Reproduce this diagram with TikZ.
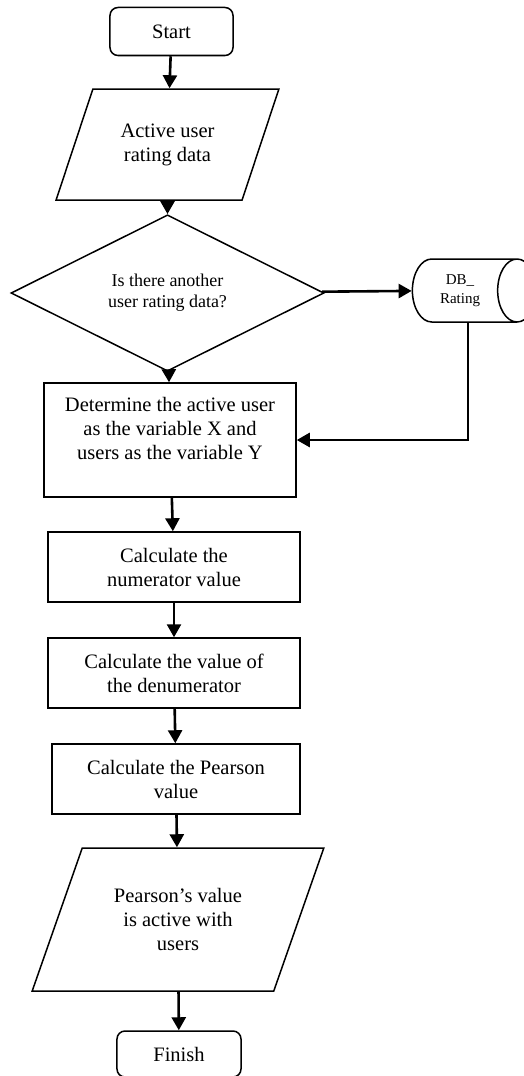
\documentclass[tikz,border=0pt]{standalone}
\usepackage{fontspec}
\setmainfont{Liberation Serif}
\usepackage{tikz}
\usetikzlibrary{shapes.geometric, arrows.meta}

\begin{document}
\begin{tikzpicture}[node distance=106pt]
\tikzstyle{startstop} = [rectangle, rounded corners=8pt, minimum width=123pt, minimum height=48pt, text centered, draw=black, line width=1.5pt, font=\fontsize{20.5}{24}\selectfont]
\tikzstyle{io} = [trapezium, trapezium left angle=63, trapezium right angle=117, trapezium stretches=true, align=center, draw=black, line width=1.5pt, font=\fontsize{20.5}{24}\selectfont]
\tikzstyle{process} = [rectangle, minimum width=252pt, minimum height=70pt, align=center, draw=black, line width=1.5pt, font=\fontsize{20.5}{24}\selectfont]
\tikzstyle{decision} = [diamond, minimum width=313pt, minimum height=114pt, inner sep=0pt, align=center, draw=black, line width=1.5pt, font=\fontsize{18}{21}\selectfont]
\tikzstyle{database} = [cylinder, minimum width=63pt, minimum height=124pt, aspect=1, align=center, draw=black, line width=1.5pt, font=\fontsize{15}{19}\selectfont]
\tikzstyle{arrow} = [line width=2.6pt, -{Triangle[length=13pt, width=14pt]}]

\useasboundingbox (-171.5pt,31.5pt) rectangle (352.5pt,-1044.5pt);

\node (start) [startstop] {Start};
\node (in1) [io, minimum width=223pt, minimum height=111pt, below of=start, yshift=-7pt, xshift=-4pt] {Active user\\rating data};
\node (dec1) [decision, below of=in1, yshift=-42.5pt] {Is there another\\user rating data?};
\node (db) [database, right of=dec1, xshift=186.5pt, yshift=2.5pt] {DB\_\\Rating};
\node (p1) [process, minimum height=114pt, below of=dec1, yshift=-41pt, xshift=2.5pt] {Determine the active user\\as the variable X and\\users as the variable Y\\\mbox{}};
\node (p2) [process, below of=p1, yshift=-21pt, xshift=4pt] {Calculate the\\numerator value};
\node (p3) [process, below of=p2] {Calculate the value of\\the denumerator};
\node (p4) [process, minimum width=248pt, below of=p3, xshift=2pt] {Calculate the Pearson\\value};
\node (out1) [io, minimum width=292pt, minimum height=143pt, below of=p4, yshift=-34.5pt, xshift=2pt] {Pearson’s value\\is active with\\users};
\node (finish) [startstop, minimum width=124pt, minimum height=46pt, below of=out1, yshift=-28.5pt, xshift=1pt] {Finish};

\draw [arrow] (start) -- (in1);
\draw [arrow] (in1) -- (dec1);
\draw [arrow] (dec1) -- (db);
\draw [arrow] (dec1) -- (p1);
\draw [arrow] ([xshift=8pt]db.south) |- (p1.east);
\draw [arrow] (p1) -- (p2);
\draw [arrow] (p2) -- (p3);
\draw [arrow] (p3) -- (p4);
\draw [arrow] (p4) -- (out1);
\draw [arrow] (out1) -- (finish);
\end{tikzpicture}
\end{document}
